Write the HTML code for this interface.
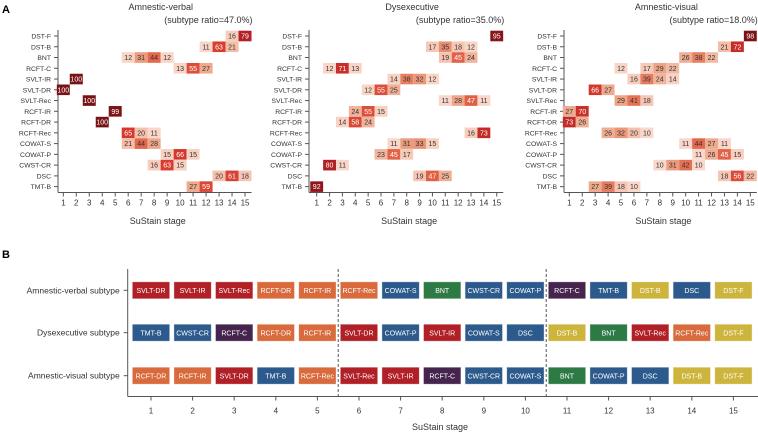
<!DOCTYPE html>
<html><head><meta charset="utf-8"><style>
body{margin:0;background:#fff;font-family:"Liberation Sans",sans-serif;}
svg text{font-family:"Liberation Sans",sans-serif;}
</style></head><body>
<svg id="fig" width="758" height="433" viewBox="0 0 758 433" xmlns="http://www.w3.org/2000/svg">
<text x="2" y="13" font-size="11" font-weight="bold">A</text>
<text x="2" y="258" font-size="11" font-weight="bold">B</text>
</svg>
<script>
const tests = ["DST-F","DST-B","BNT","RCFT-C","SVLT-IR","SVLT-DR","SVLT-Rec","RCFT-IR","RCFT-DR","RCFT-Rec","COWAT-S","COWAT-P","CWST-CR","DSC","TMT-B"];
const stages = [1,2,3,4,5,6,7,8,9,10,11,12,13,14,15];
const subtypeNames = ["Amnestic-verbal","Dysexecutive","Amnestic-visual"];
const subtypeRatios = ["47.0%","35.0%","18.0%"];
// [testIndex, stage, value]
const verbalCells = [[0,14,16],[0,15,79],[1,12,11],[1,13,63],[1,14,21],[2,6,12],[2,7,31],[2,8,44],[2,9,12],[3,10,13],[3,11,55],[3,12,27],[4,2,100],[5,1,100],[6,3,100],[7,5,99],[8,4,100],[9,6,65],[9,7,20],[9,8,11],[10,6,21],[10,7,44],[10,8,28],[11,9,15],[11,10,66],[11,11,15],[12,8,16],[12,9,63],[12,10,15],[13,13,20],[13,14,61],[13,15,18],[14,11,27],[14,12,59]];
const dysexecCells = [[0,15,95],[1,10,17],[1,11,35],[1,12,18],[1,13,12],[2,11,19],[2,12,45],[2,13,24],[3,2,12],[3,3,71],[3,4,13],[4,7,14],[4,8,38],[4,9,32],[4,10,12],[5,5,12],[5,6,55],[5,7,25],[6,11,11],[6,12,28],[6,13,47],[6,14,11],[7,4,24],[7,5,55],[7,6,15],[8,3,14],[8,4,58],[8,5,24],[9,13,16],[9,14,73],[10,7,11],[10,8,31],[10,9,33],[10,10,15],[11,6,23],[11,7,45],[11,8,17],[12,2,80],[12,3,11],[13,9,19],[13,10,47],[13,11,25],[14,1,92]];
const visualCells = [[0,15,98],[1,13,21],[1,14,72],[2,10,26],[2,11,38],[2,12,22],[3,5,12],[3,7,17],[3,8,29],[3,9,22],[4,6,16],[4,7,39],[4,8,24],[4,9,14],[5,3,66],[5,4,27],[6,5,29],[6,6,41],[6,7,18],[7,1,27],[7,2,70],[8,1,73],[8,2,26],[9,4,26],[9,5,32],[9,6,20],[9,7,10],[10,10,11],[10,11,44],[10,12,27],[10,13,11],[11,11,11],[11,12,26],[11,13,45],[11,14,15],[12,8,10],[12,9,31],[12,10,42],[12,11,10],[13,13,18],[13,14,56],[13,15,22],[14,3,27],[14,4,39],[14,5,18],[14,6,10]];
const panelCells = [verbalCells, dysexecCells, visualCells];
// Panel B sequences
const seqRows = ["Amnestic-verbal subtype","Dysexecutive subtype","Amnestic-visual subtype"];
const seqVerbal = ["SVLT-DR","SVLT-IR","SVLT-Rec","RCFT-DR","RCFT-IR","RCFT-Rec","COWAT-S","BNT","CWST-CR","COWAT-P","RCFT-C","TMT-B","DST-B","DSC","DST-F"];
const seqDysexec = ["TMT-B","CWST-CR","RCFT-C","RCFT-DR","RCFT-IR","SVLT-DR","COWAT-P","SVLT-IR","COWAT-S","DSC","DST-B","BNT","SVLT-Rec","RCFT-Rec","DST-F"];
const seqVisual = ["RCFT-DR","RCFT-IR","SVLT-DR","TMT-B","RCFT-Rec","SVLT-Rec","SVLT-IR","RCFT-C","CWST-CR","COWAT-S","BNT","COWAT-P","DSC","DST-B","DST-F"];
const seqs = [seqVerbal, seqDysexec, seqVisual];
const dividers = [5.5, 10.5];

const NS="http://www.w3.org/2000/svg";
const svg=document.getElementById('fig');
function mk(tag,attrs,parent){const e=document.createElementNS(NS,tag);for(const k in attrs)e.setAttribute(k,attrs[k]);(parent||svg).appendChild(e);return e;}

function heatColor(v){
  const stops=[[0,[252,232,224]],[15,[248,208,192]],[30,[236,160,130]],[45,[226,100,72]],[65,[214,58,46]],[80,[178,30,36]],[100,[120,18,22]]];
  for(let i=1;i<stops.length;i++){if(v<=stops[i][0]){const a=stops[i-1],b=stops[i];const t=(v-a[0])/(b[0]-a[0]);const c=a[1].map((x,j)=>Math.round(x+(b[1][j]-x)*t));return `rgb(${c})`;}}
  return 'rgb(120,18,22)';
}
const panelX=[58,309,564];
const col1=[63.3,316.7,569.3];
const colStep=[12.98,12.86,12.93];
const rowY0=36, rowStep=10.76, axisY=192.5;
panelCells.forEach((cells,p)=>{
  const g=mk('g',{});
  
  
  const xS=s=>col1[p]+(s-1)*colStep[p];
  const yS=i=>rowY0+i*rowStep;
  const right=col1[p]+14*colStep[p]+6.5;
  const t=mk('text',{x:(panelX[p]+right)/2+6,y:10,'font-size':9,'text-anchor':'middle',fill:'#333'},g);t.textContent=subtypeNames[p];
  
  const r=mk('text',{x:right+1,y:23,'font-size':9,'text-anchor':'end',fill:'#333'},g);r.textContent='(subtype ratio='+subtypeRatios[p]+')';
  
  mk('line',{x1:panelX[p],y1:30,x2:panelX[p],y2:axisY,stroke:'#555','stroke-width':1},g);
  mk('line',{x1:panelX[p],y1:axisY,x2:right,y2:axisY,stroke:'#555','stroke-width':1},g);
  tests.forEach((tn,i)=>{
    mk('line',{x1:panelX[p]-4,y1:yS(i),x2:panelX[p],y2:yS(i),stroke:'#555'},g);
    const l=mk('text',{x:panelX[p]-7,y:yS(i)+2.5,'font-size':6.8,'text-anchor':'end',fill:'#333'},g);l.textContent=tn;
    
  });
  stages.forEach(s=>{
    mk('line',{x1:xS(s),y1:axisY,x2:xS(s),y2:axisY+4,stroke:'#555'},g);
    const l=mk('text',{x:xS(s),y:axisY+13,'font-size':8,'text-anchor':'middle',fill:'#333'},g);l.textContent=s;
    
  });
  const xl=mk('text',{x:(panelX[p]+right)/2+3,y:224,'font-size':9,'text-anchor':'middle',fill:'#333'},g);xl.textContent='SuStain stage';
  
  cells.forEach(([ti,s,v])=>{
    const w=colStep[p];
    const rc=mk('rect',{x:xS(s)-w/2,y:yS(ti)-5.3,width:w,height:10.6,fill:heatColor(v)},g);
    
    
    const tx=mk('text',{x:xS(s),y:yS(ti)+2.6,'font-size':7,'text-anchor':'middle',fill:v>=45?'#fff':'#333'},g);tx.textContent=v;
    
    
  });
});

// Panel B
const cat={"SVLT-DR":"#b02026","SVLT-IR":"#b02026","SVLT-Rec":"#b02026","RCFT-DR":"#d86a3c","RCFT-IR":"#d86a3c","RCFT-Rec":"#d86a3c","RCFT-C":"#45244e","TMT-B":"#2c5a8c","CWST-CR":"#2c5a8c","COWAT-S":"#2c5a8c","COWAT-P":"#2c5a8c","DSC":"#2c5a8c","BNT":"#2d7a45","DST-B":"#cdb43c","DST-F":"#cdb43c"};
const bx=s=>151+(s-1)*41.6;
const rowYs=[290.3,332.7,375.7];
const bAxisX=127.7,bTop=269,bBot=396.5;
const gb=mk('g',{});

mk('line',{x1:bAxisX,y1:bTop,x2:bAxisX,y2:bBot,stroke:'#555'},gb);
mk('line',{x1:bAxisX,y1:bBot,x2:758,y2:bBot,stroke:'#555'},gb);
dividers.forEach(d=>{const l=mk('line',{x1:bx(d),y1:bTop,x2:bx(d),y2:bBot,stroke:'#555','stroke-dasharray':'3,2'},gb);
  });
stages.forEach(s=>{
  mk('line',{x1:bx(s),y1:bBot,x2:bx(s),y2:bBot+4,stroke:'#555'},gb);
  const l=mk('text',{x:bx(s),y:bBot+17,'font-size':8,'text-anchor':'middle',fill:'#333'},gb);l.textContent=s;
  
});
const bt=mk('text',{x:440,y:430,'font-size':9,'text-anchor':'middle',fill:'#333'},gb);bt.textContent='SuStain stage';

seqRows.forEach((rn,r)=>{
  const y=rowYs[r];
  mk('line',{x1:bAxisX-4,y1:y,x2:bAxisX,y2:y,stroke:'#555'},gb);
  const l=mk('text',{x:bAxisX-8,y:y+3,'font-size':8.5,'text-anchor':'end',fill:'#333'},gb);l.textContent=rn;
  
  seqs[r].forEach((tn,i)=>{
    const s=stages[i];
    const rc=mk('rect',{x:bx(s)-18.7,y:y-8.5,width:37.4,height:17,fill:cat[tn],stroke:'rgba(255,255,255,0.5)','stroke-width':0.8},gb);
    
    
    const tx=mk('text',{x:bx(s),y:y+2.8,'font-size':7,'text-anchor':'middle',fill:'#fff'},gb);tx.textContent=tn;
    
    
  });
});
</script>
</body></html>
